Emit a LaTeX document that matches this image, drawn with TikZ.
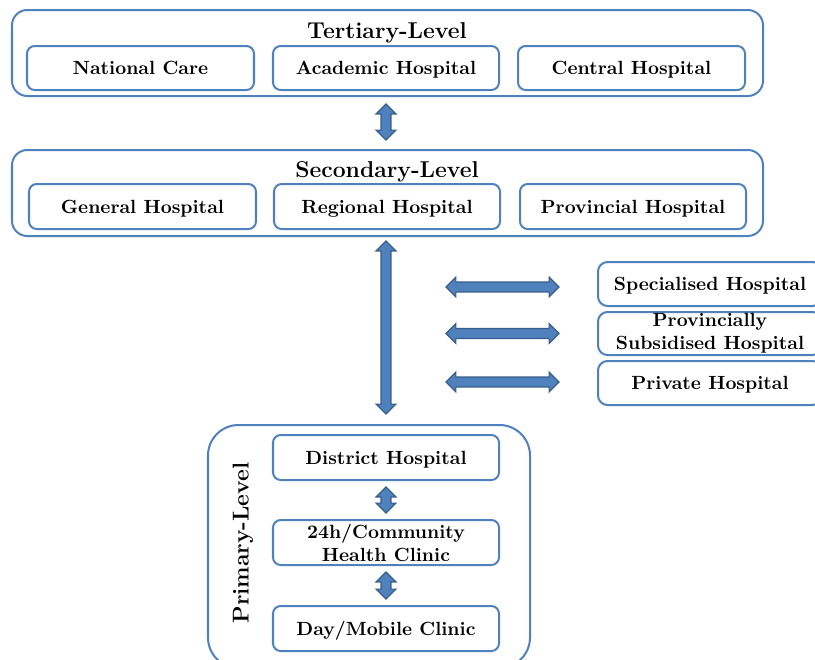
\documentclass[tikz,border=0pt]{standalone}
\usetikzlibrary{calc,fit}
\definecolor{boxblue}{RGB}{79,129,189}
\definecolor{arrowfill}{RGB}{79,129,189}
\definecolor{arrowline}{RGB}{56,93,138}
% double block arrow between two named points
\newcommand\dblarrow[2]{%
  \coordinate (hA) at ($(#1)!5.2pt!(#2)$);
  \coordinate (hB) at ($(#2)!5.2pt!(#1)$);
  \filldraw[fill=arrowfill, draw=arrowline, line width=0.6pt, line join=miter]
    (#1) -- ($(hA)!5.2pt!90:(#1)$) -- ($(hA)!2.6pt!90:(#1)$)
    -- ($(hB)!2.6pt!-90:(#2)$) -- ($(hB)!5.2pt!-90:(#2)$) -- (#2)
    -- ($(hB)!5.2pt!90:(#2)$) -- ($(hB)!2.6pt!90:(#2)$)
    -- ($(hA)!2.6pt!-90:(#1)$) -- ($(hA)!5.2pt!-90:(#1)$) -- cycle;
}
\tikzset{
  box/.style={draw=boxblue, line width=1.05pt, rounded corners=4pt,
    inner sep=0pt},
  level/.style={draw=boxblue, line width=1.05pt, rounded corners=8pt,
    inner sep=0pt},
  label/.style={font=\bfseries, inner sep=0pt,
    text height=1.6ex, text depth=0pt},
  twoline/.style={font=\bfseries, inner sep=0pt, align=center},
  title/.style={font=\bfseries\large, inner sep=0pt,
    text height=1.6ex, text depth=0pt}
}
\begin{document}
\begin{tikzpicture}[x=0.524pt, y=-0.524pt]
\useasboundingbox (0,0) rectangle (815,660);
\clip (0,0) rectangle (815,660);

% tertiary level
\node[level, fit={(12,10) (763,96)}] (ter) {};
\node[title] (tertitle) at (387,32) {Tertiary-Level};
\node[box, fit={(27,46) (254,90)}] (nat) {};
\node[label] (natT) at (nat.center) {National Care};
\node[box, fit={(273,46) (499,90)}] (acad) {};
\node[label] (acadT) at (acad.center) {Academic Hospital};
\node[box, fit={(518,46) (745,90)}] (cent) {};
\node[label] (centT) at (cent.center) {Central Hospital};

% secondary level
\node[level, fit={(12,150) (763,236)}] (sec) {};
\node[title] (sectitle) at (387,171) {Secondary-Level};
\node[box, fit={(29,184) (256,229)}] (gen) {};
\node[label] (genT) at (gen.center) {General Hospital};
\node[box, fit={(274,184) (500,229)}] (reg) {};
\node[label] (regT) at (reg.center) {Regional Hospital};
\node[box, fit={(520,184) (746,229)}] (prov) {};
\node[label] (provT) at (prov.center) {Provincial Hospital};

% other hospitals
\node[box, rounded corners=5pt, fit={(598,262) (822,306)}] (spec) {};
\node[label] (specT) at (710,284) {Specialised Hospital};
\node[box, rounded corners=5pt, fit={(598,312) (822,355)}] (subs) {};
\node[twoline] (subsT) at (710,333) {Provincially\\Subsidised Hospital};
\node[box, rounded corners=5pt, fit={(598,361) (822,405)}] (priv) {};
\node[label] (privT) at (710,383) {Private Hospital};

% primary level
\node[level, rounded corners=16pt, fit={(208,425) (530,668)}] (pri) {};
\node[title, rotate=90] (prititle) at (242,543) {Primary-Level};
\node[box, fit={(273,435) (499,480)}] (dist) {};
\node[label] (distT) at (dist.center) {District Hospital};
\node[box, fit={(273,520) (499,565)}] (comm) {};
\node[twoline] (commT) at (comm.center) {24h/Community\\Health Clinic};
\node[box, fit={(273,606) (499,651)}] (day) {};
\node[label] (dayT) at (day.center) {Day/Mobile Clinic};

% connectors
\coordinate (t1) at ($(dist.north |- ter.south)+(0,7)$);
\coordinate (t2) at ($(dist.north |- sec.north)+(0,-9)$);
\dblarrow{t1}{t2}
\coordinate (s1) at ($(dist.north |- sec.south)+(0,4)$);
\coordinate (s2) at ($(dist.north |- pri.north)+(0,-10)$);
\dblarrow{s1}{s2}
\coordinate (h1a) at ($(spec.west)+(-151,3)$);
\coordinate (h1b) at ($(spec.west)+(-38,3)$);
\dblarrow{h1a}{h1b}
\coordinate (h2a) at ($(subs.west)+(-151,0)$);
\coordinate (h2b) at ($(subs.west)+(-38,0)$);
\dblarrow{h2a}{h2b}
\coordinate (h3a) at ($(priv.west)+(-151,-1)$);
\coordinate (h3b) at ($(priv.west)+(-38,-1)$);
\dblarrow{h3a}{h3b}
\coordinate (p1) at ($(dist.south)+(0,6)$);
\coordinate (p2) at ($(comm.north)+(0,-6)$);
\dblarrow{p1}{p2}
\coordinate (p3) at ($(comm.south)+(0,6)$);
\coordinate (p4) at ($(day.north)+(0,-6)$);
\dblarrow{p3}{p4}
\end{tikzpicture}
\end{document}
